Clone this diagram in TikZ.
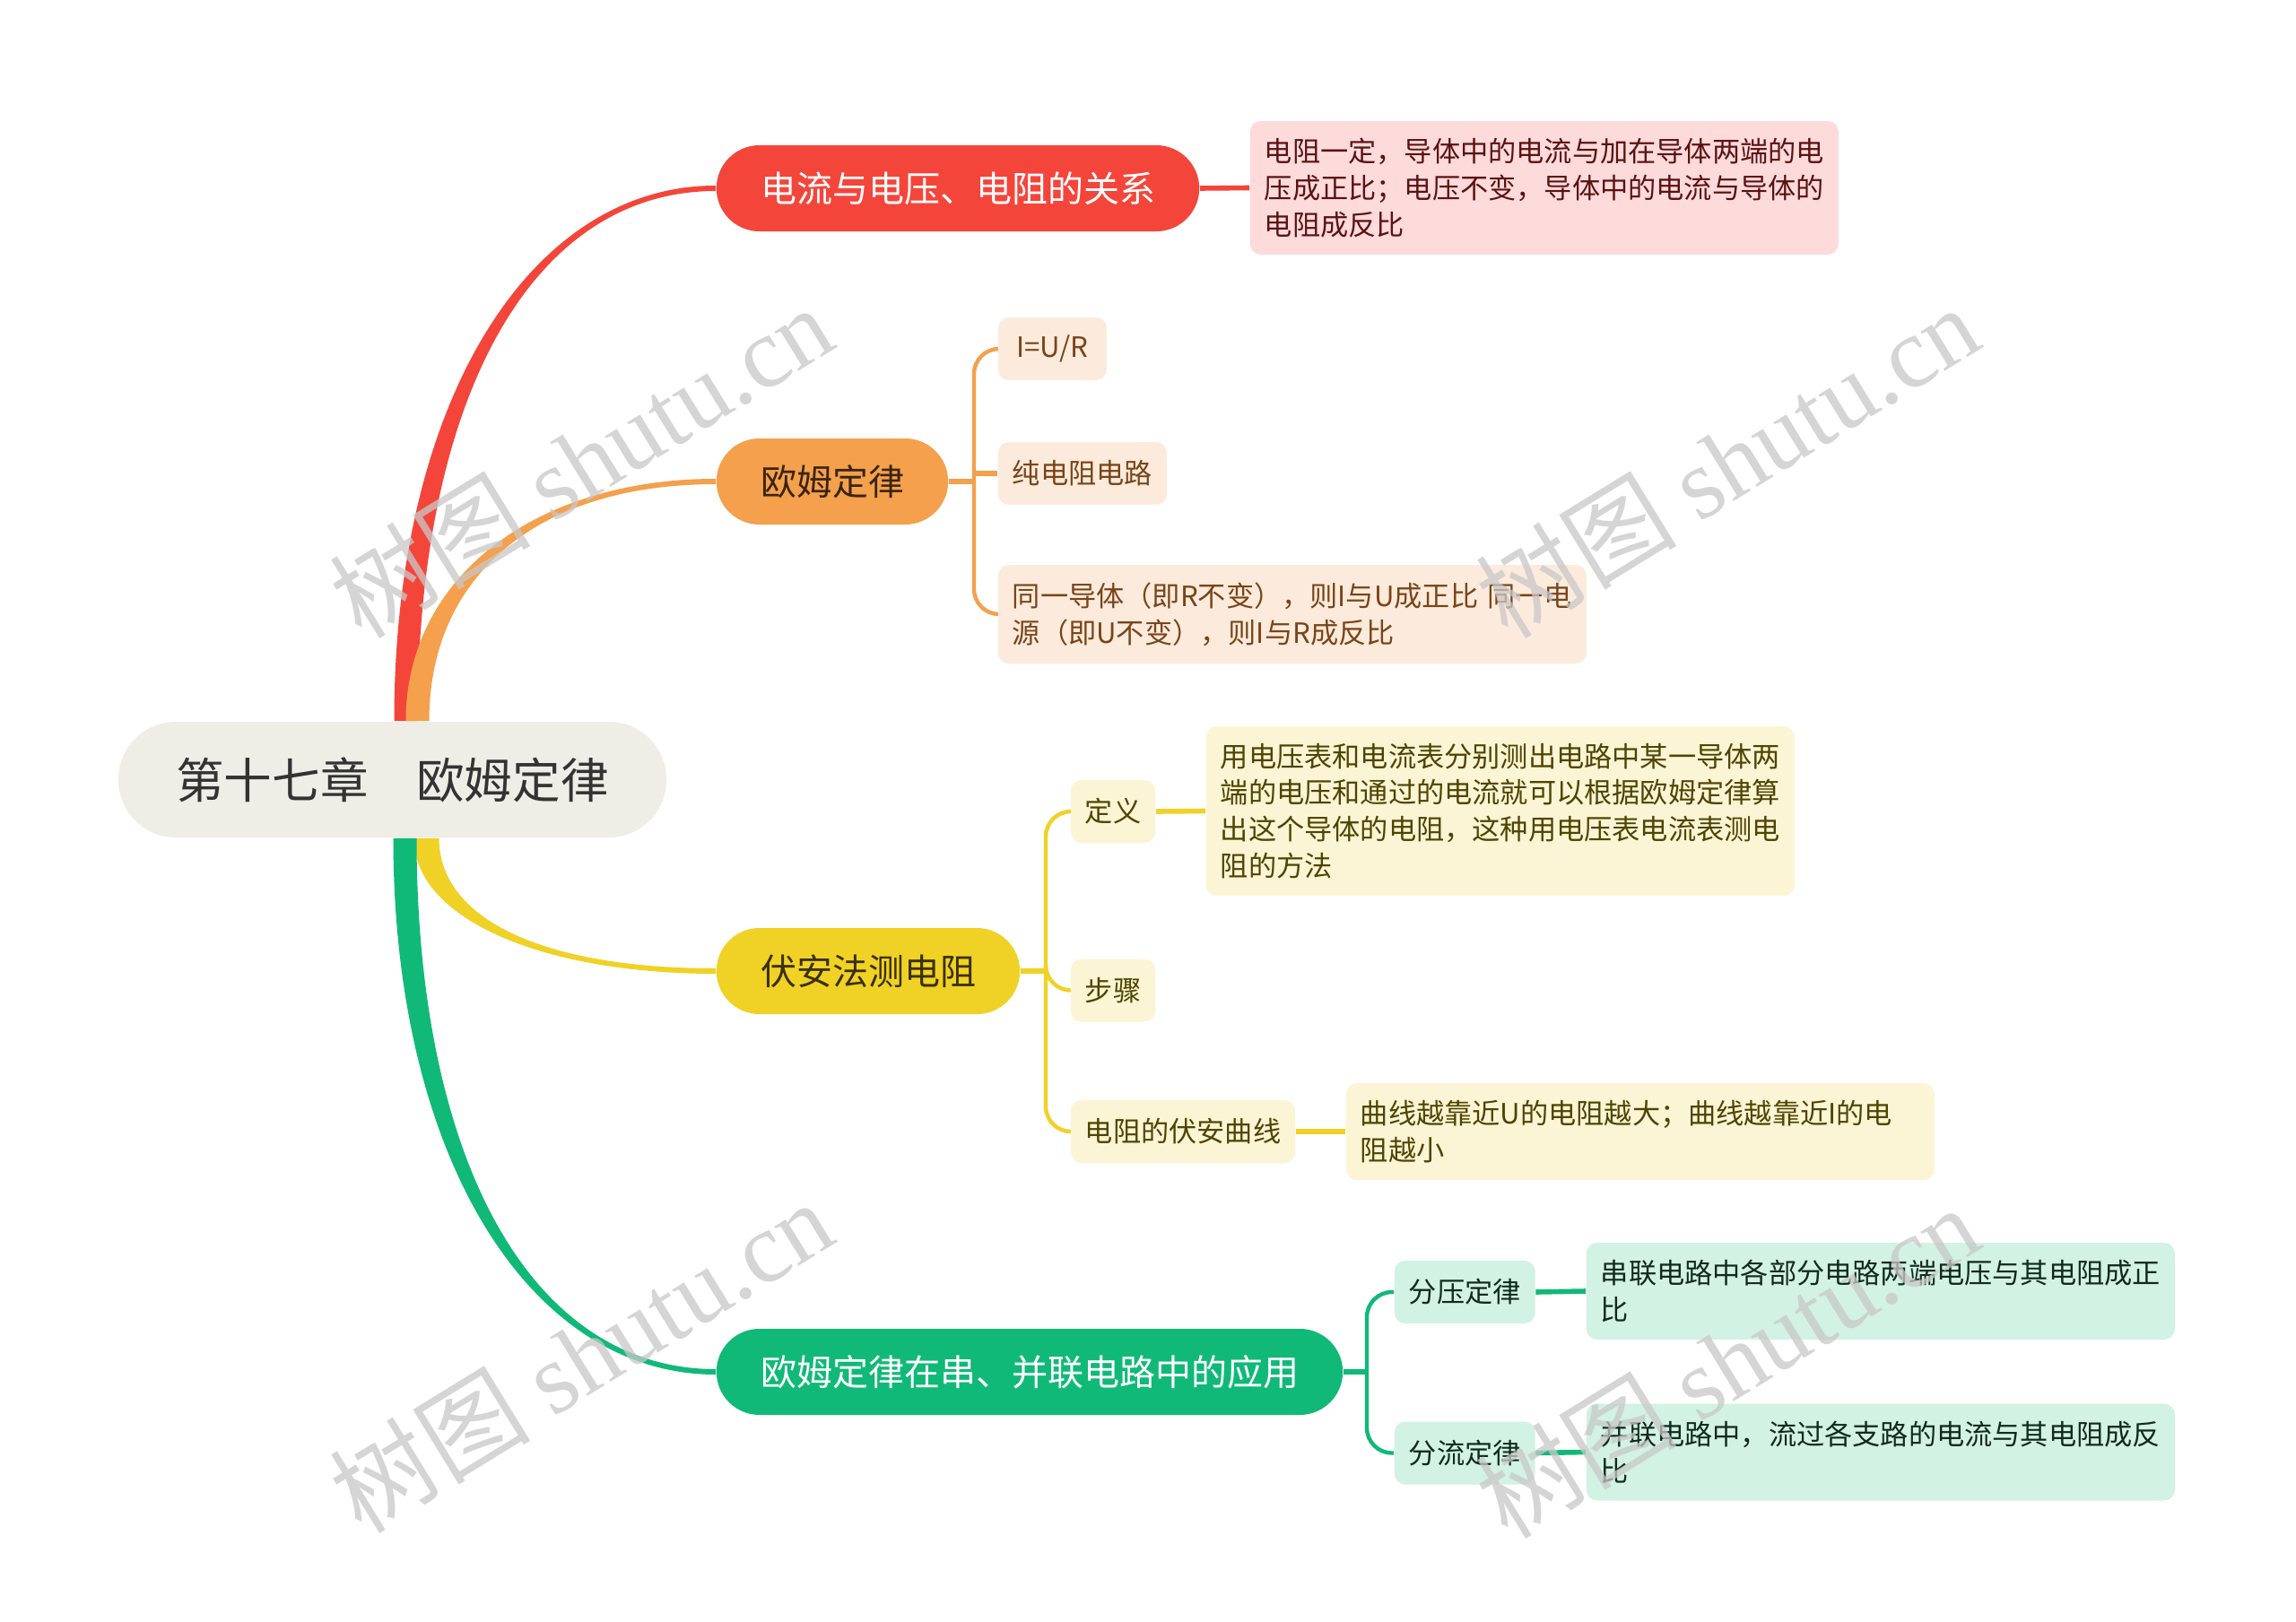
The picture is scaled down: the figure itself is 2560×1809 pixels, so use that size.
\documentclass[tikz,border=0pt]{standalone}
\usepackage{fontspec}
\setmainfont{Noto Sans CJK SC}
\newfontfamily\wmfont{Liberation Serif}
\usepackage{xcolor}
\usepackage{tikz}
\usetikzlibrary{calc,backgrounds}

\definecolor{rootfill}{HTML}{EEEEE6}
\definecolor{roottext}{HTML}{333333}
\definecolor{redmain}{HTML}{F4453B}
\definecolor{redleaf}{HTML}{FDDBDB}
\definecolor{redtext}{HTML}{5C1212}
\definecolor{orgmain}{HTML}{F4A04C}
\definecolor{orgleaf}{HTML}{FCEBDC}
\definecolor{orgtext}{HTML}{7A4418}
\definecolor{orgdark}{HTML}{3B2412}
\definecolor{ylwmain}{HTML}{F0D126}
\definecolor{ylwleaf}{HTML}{FBF5D5}
\definecolor{ylwtext}{HTML}{4F4400}
\definecolor{ylwdark}{HTML}{3A3000}
\definecolor{grnmain}{HTML}{10B978}
\definecolor{grnleaf}{HTML}{D2F2E3}
\definecolor{grntext}{HTML}{122A1E}
\definecolor{wmgray}{HTML}{C8C8C8}

\begin{document}
\begin{tikzpicture}[x=0.25pt,y=-0.25pt,
    rootbox/.style={fill=rootfill, text=roottext, rounded corners=16pt,
        minimum width=152.75pt, minimum height=32.25pt,
        font=\fontsize{13.4pt}{16pt}\selectfont},
    mainbox/.style={rounded corners=12pt, minimum height=24pt, inner xsep=12.3pt,
        anchor=west, font=\fontsize{10pt}{12pt}\selectfont},
    subbox/.style={rounded corners=3pt, minimum height=17.5pt, inner xsep=4pt,
        anchor=west, font=\fontsize{7.8pt}{10.2pt}\selectfont},
    leafbox/.style={rounded corners=3pt, text width=156pt, inner xsep=4pt, align=left,
        anchor=west, font=\fontsize{7.8pt}{10.2pt}\selectfont},
    trunk/.style={line width=1.1pt, rounded corners=7pt},
    twig/.style={line width=1.4pt},
    wmark/.style={text=wmgray, opacity=0.75, rotate=31.6,
        font=\fontsize{28pt}{30pt}\selectfont},
]
\useasboundingbox (0,0) rectangle (2560,1809);

% root and main branches
\node[rootbox] at (437.5,869.5) (root) {第十七章　欧姆定律};
\node[mainbox, fill=redmain, text=white] at (798,210) (b1) {电流与电压、电阻的关系};
\node[mainbox, fill=orgmain, text=orgdark] at (798,537) (b2) {欧姆定律};
\node[mainbox, fill=ylwmain, text=ylwdark] at (798,1083) (b3) {伏安法测电阻};
\node[mainbox, fill=grnmain, text=white] at (798,1530) (b4) {欧姆定律在串、并联电路中的应用};

% red
\node[leafbox, fill=redleaf, text=redtext, minimum height=37.25pt] at (1393,209.5) (r1)
    {电阻一定，导体中的电流与加在导体两端的电\\压成正比；电压不变，导体中的电流与导体的\\电阻成反比};

% orange
\node[subbox, fill=orgleaf, text=orgtext, minimum width=30.25pt] at (1112,389) (o1) {I=U/R};
\node[subbox, fill=orgleaf, text=orgtext] at (1112,528) (o2) {纯电阻电路};
\node[leafbox, fill=orgleaf, text=orgtext, minimum height=27.5pt] at (1112,685) (o3)
    {同一导体（即R不变），则I与U成正比 同一电\\源（即U不变），则I与R成反比};

% yellow
\node[subbox, fill=ylwleaf, text=ylwtext] at (1193,905) (y1) {定义};
\node[leafbox, fill=ylwleaf, text=ylwtext, minimum height=47.25pt] at (1344,904.5) (y1a)
    {用电压表和电流表分别测出电路中某一导体两\\端的电压和通过的电流就可以根据欧姆定律算\\出这个导体的电阻，这种用电压表电流表测电\\阻的方法};
\node[subbox, fill=ylwleaf, text=ylwtext] at (1193,1104.5) (y2) {步骤};
\node[subbox, fill=ylwleaf, text=ylwtext] at (1193,1262) (y3) {电阻的伏安曲线};
\node[leafbox, fill=ylwleaf, text=ylwtext, minimum height=27pt] at (1500,1262) (y3a)
    {曲线越靠近U的电阻越大；曲线越靠近I的电\\阻越小};

% green
\node[subbox, fill=grnleaf, text=grntext] at (1554,1441) (g1) {分压定律};
\node[leafbox, fill=grnleaf, text=grntext, minimum height=27pt] at (1768,1440) (g1a)
    {串联电路中各部分电路两端电压与其电阻成正\\比};
\node[subbox, fill=grnleaf, text=grntext] at (1554,1620.5) (g2) {分流定律};
\node[leafbox, fill=grnleaf, text=grntext, minimum height=27pt] at (1768,1619.5) (g2a)
    {并联电路中，流过各支路的电流与其电阻成反\\比};

\coordinate (s1) at ($(root.north)+(15,0)$);
\coordinate (s2) at ($(root.north)+(28,0)$);
\coordinate (s3) at ($(root.south)+(38,0)$);
\coordinate (s4) at ($(root.south)+(14,0)$);
\coordinate (t2) at ($(b2.east)+(28,0)$);
\coordinate (t3) at ($(b3.east)+(28,0)$);
\coordinate (t4) at ($(b4.east)+(26,0)$);

\begin{scope}[on background layer]
\fill[white] (0,0) rectangle (2560,1809);
\fill[redmain] ($(s1)+(-13,0)$) .. controls +(0,-357) and +(-207,0) .. ($(b1.west)+(0,-3)$)
    -- ($(b1.west)+(0,3)$) .. controls +(-207,0) and +(0,-357) .. ($(s1)+(13,0)$) -- cycle;
\fill[orgmain] ($(s2)+(-13,0)$) .. controls +(0,-161) and +(-200,0) .. ($(b2.west)+(0,-3)$)
    -- ($(b2.west)+(0,3)$) .. controls +(-200,0) and +(0,-161) .. ($(s2)+(13,0)$) -- cycle;
\fill[ylwmain] ($(s3)+(-14,0)$) .. controls +(0,90) and +(-193,0) .. ($(b3.west)+(0,3)$)
    -- ($(b3.west)+(0,-3)$) .. controls +(-193,0) and +(0,90) .. ($(s3)+(14,0)$) -- cycle;
\fill[grnmain] ($(s4)+(-13,0)$) .. controls +(0,357) and +(-207,0) .. ($(b4.west)+(0,3)$)
    -- ($(b4.west)+(0,-3)$) .. controls +(-207,0) and +(0,357) .. ($(s4)+(13,0)$) -- cycle;

\draw[twig, redmain] (b1.east) -- (r1.west);

\draw[twig, orgmain] (b2.east) -- (t2);
\draw[trunk, orgmain] (o1.west) -| (t2) |- (o3.west);
\draw[twig, orgmain] (o2.west -| t2) -- (o2.west);

\draw[twig, ylwmain] (b3.east) -- (t3);
\draw[trunk, ylwmain] (y1.west) -| (t3) |- (y3.west);
\draw[trunk, ylwmain] (t3) |- (y2.west);
\draw[twig, ylwmain] (y1.east) -- (y1a.west);
\draw[twig, ylwmain] (y3.east) -- (y3a.west);

\draw[twig, grnmain] (b4.east) -- (t4);
\draw[trunk, grnmain] (g1.west) -| (t4) |- (g2.west);
\draw[twig, grnmain] (g1.east) -- (g1a.west);
\draw[twig, grnmain] (g2.east) -- (g2a.west);
\end{scope}

% watermarks
\node[wmark] at (648,514) (w1) {树图 {\wmfont shutu.cn}};
\node[wmark] at (1926,514) (w2) {树图 {\wmfont shutu.cn}};
\node[wmark] at (648,1512) (w3) {树图 {\wmfont shutu.cn}};
\node[wmark] at (1926,1518) (w4) {树图 {\wmfont shutu.cn}};
\end{tikzpicture}
\end{document}
